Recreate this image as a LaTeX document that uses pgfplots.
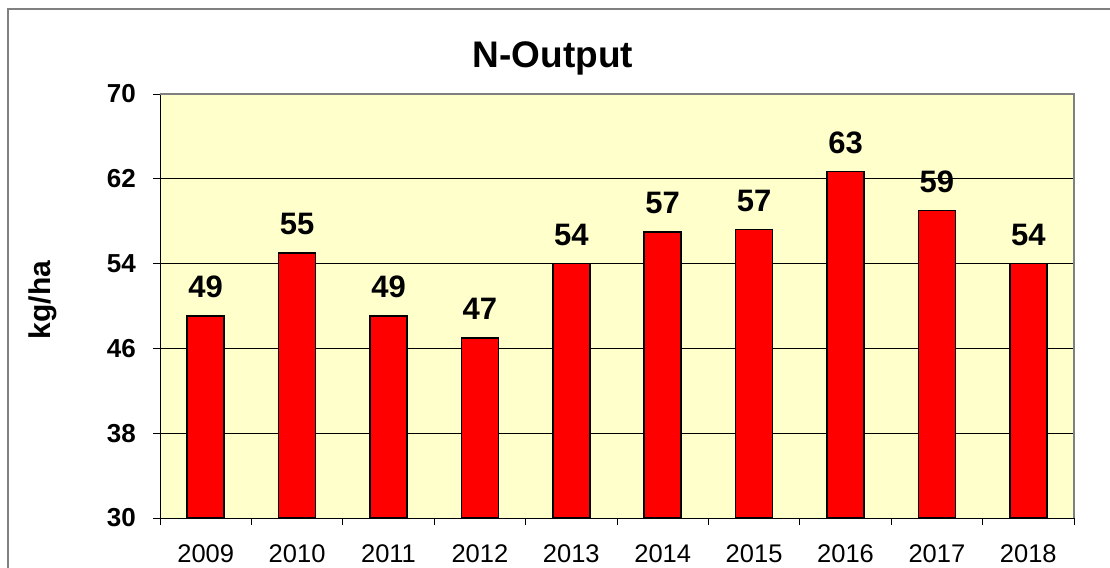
\documentclass[border=0pt]{standalone}
\usepackage{fontspec}
\setmainfont{Liberation Sans}
\usepackage{pgfplots}
\pgfplotsset{compat=1.18}
\definecolor{plotbg}{RGB}{255,255,204}
\definecolor{framegray}{RGB}{128,128,128}
\begin{document}
\begin{tikzpicture}[x=1bp,y=1bp]
\useasboundingbox (0,0) rectangle (1110,568);
\draw[framegray, line width=1.2bp] (8,0) -- (8,559) -- (1111,559);
\node[anchor=base, font=\fontsize{37bp}{40bp}\selectfont\bfseries] at (553,500) {N-Output};
\node[rotate=90, font=\fontsize{30bp}{34bp}\selectfont\bfseries] at (43,268) {kg/ha};
\begin{axis}[
  at={(160bp,50bp)}, anchor=south west,
  scale only axis, width=914bp, height=424bp,
  xmin=-0.5, xmax=9.5, ymin=30, ymax=70,
  ytick={30,38,46,54,62,70},
  xtick={0,...,9},
  xticklabels={2009,2010,2011,2012,2013,2014,2015,2016,2017,2018},
  minor xtick={-0.5,0.5,...,9.5},
  major x tick style={draw=none},
  tick align=outside,
  major tick length=7bp, minor tick length=7bp,
  xtick pos=bottom, ytick pos=left,
  tick style={black, line width=0.8bp},
  axis x line*=bottom, axis y line*=left,
  axis line style={black, line width=0.9bp},
  /pgf/number format/assume math mode=true,
  yticklabel style={font=\fontsize{26bp}{30bp}\selectfont\bfseries, anchor=east, inner sep=0pt, xshift=-17bp},
  xticklabel style={font=\fontsize{25.5bp}{30bp}\selectfont, anchor=base, inner sep=0pt, yshift=-38bp},
  ymajorgrids, grid style={black, line width=0.8bp},
  axis background/.style={fill=plotbg},
  ybar, bar width=37bp,
  point meta=explicit symbolic,
  nodes near coords,
  every node near coord/.append style={font=\fontsize{31bp}{34bp}\selectfont\bfseries, anchor=south, inner sep=0pt, yshift=17bp},
  clip=false,
]
\addplot[fill=red, draw=black, line width=1.6bp] coordinates {
  (0,49.05) [49]
  (1,55.0) [55]
  (2,49.05) [49]
  (3,47.0) [47]
  (4,54.0) [54]
  (5,57.0) [57]
  (6,57.2) [57]
  (7,62.7) [63]
  (8,59.0) [59]
  (9,54.0) [54]
};
\draw[framegray, line width=2.2bp] (rel axis cs:0,1) -- (rel axis cs:1,1) -- (rel axis cs:1,0);
\end{axis}
\end{tikzpicture}
\end{document}
